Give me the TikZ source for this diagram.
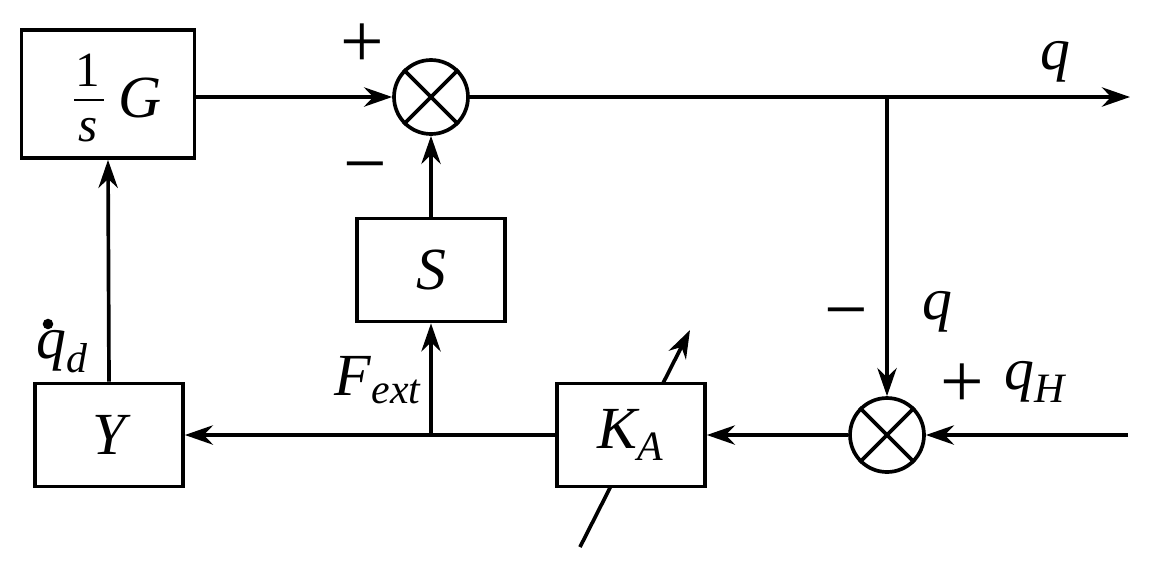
\documentclass[tikz,border=0pt]{standalone}
\usepackage{fontspec}
\setmainfont{Liberation Serif}
\usetikzlibrary{arrows.meta}
\begin{document}
\begin{tikzpicture}[x=0.02cm,y=-0.02cm,
  blk/.style={draw,fill=white,line width=2.1pt,minimum width=2.96cm,minimum height=2.06cm,inner sep=0},
  sum/.style={draw,circle,line width=2.1pt,minimum size=1.48cm,inner sep=0},
  con/.style={line width=2.1pt,-{Stealth[length=16pt,width=11pt]}},
  lbl/.style={font=\fontsize{34}{40}\selectfont\itshape},
  sgn/.style={font=\fontsize{44}{44}\selectfont}]
\useasboundingbox (0,0) rectangle (1151,576);
\coordinate (ka1) at (580,547);
\coordinate (ka2) at (690,330);
\draw[con] (ka1) -- (ka2);
\node[blk,minimum width=3.46cm,minimum height=2.56cm] (G) at (108,94) {};
\node[lbl,font=\fontsize{28}{30}\selectfont] (one) at (88,70) {1};
\node[lbl,font=\fontsize{28}{30}\selectfont\itshape] (s) at (88,130) {s};
\draw[line width=1.5pt] (74,100) -- (104,100);
\node[lbl] (Gt) at (140,98) {G};
\node[sum] (C1) at (431,97) {};
\draw[line width=2.1pt] (C1.north west) -- (C1.south east) (C1.north east) -- (C1.south west);
\node[blk] (S) at (431,270) {};
\node[lbl] at (S) {S};
\node[sum] (C2) at (887,435) {};
\draw[line width=2.1pt] (C2.north west) -- (C2.south east) (C2.north east) -- (C2.south west);
\node[blk] (K) at (631,435) {};
\node[lbl] at (K) {K\textsubscript{A}};
\node[blk] (Y) at (109,435) {};
\node[lbl] at (Y) {Y};
\coordinate (out) at (1130,97);
\coordinate (br) at (887,97);
\coordinate (in) at (1128,435);
\coordinate (j) at (431,435);
\draw[con] (G.east |- C1) -- (C1.west);
\draw[con] (S.north) -- (C1.south);
\draw[con] (C1.east) -- (out);
\draw[con] (br) -- (C2.north);
\draw[con] (in) -- (C2.east);
\draw[con] (C2.west) -- (K.east);
\draw[con] (K.west) -- (Y.east);
\draw[con] (j) -- (S.south);
\draw[con] (Y.north) -- (G.south);
\node[sgn] at (362,46) {+};
\node[sgn] at (365,176) {−};
\node[sgn] at (846,322) {−};
\node[sgn] at (962,386) {+};
\node[lbl] at (1055,62) {q};
\node[lbl] at (937,312) {q};
\node[lbl] at (1035,382) {q\textsubscript{H}};
\node[lbl] at (378,380) {F\textsubscript{ext}};
\node[lbl] at (62,352) {q\textsubscript{d}};
\fill (48,324) circle (3pt);
\end{tikzpicture}
\end{document}
